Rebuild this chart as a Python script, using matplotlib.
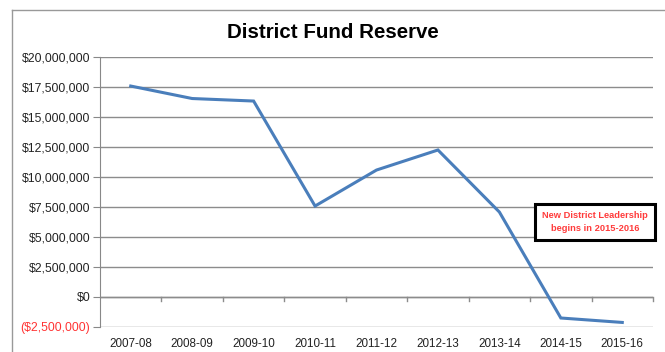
import matplotlib.pyplot as plt
from matplotlib.lines import Line2D
from matplotlib.ticker import FuncFormatter

years = ["2007-08", "2008-09", "2009-10", "2010-11", "2011-12",
         "2012-13", "2013-14", "2014-15", "2015-16"]
reserve = [17.58, 16.54, 16.33, 7.58, 10.58, 12.25, 7.08, -1.75, -2.12]  # millions
yticks = [-2.5, 0, 2.5, 5, 7.5, 10, 12.5, 15, 17.5, 20]

plt.rcParams['font.family'] = ['Liberation Sans', 'DejaVu Sans']

fig = plt.figure(figsize=(6.65, 3.52), dpi=100)
ax = fig.add_axes([100/665, 1 - 327/352, 553/665, 270/352])

x = list(range(len(years)))
ax.plot(x, reserve, color='#4a7ebb', linewidth=2.2, solid_joinstyle='miter', zorder=3)

ax.set_xlim(-0.5, len(years) - 0.5)
ax.set_ylim(-2.5, 20)
ax.set_yticks(yticks)

def money(v, pos):
    if v < 0:
        return "(${:,.0f})".format(-v * 1e6)
    return "${:,.0f}".format(v * 1e6)

ax.yaxis.set_major_formatter(FuncFormatter(money))
for lab, v in zip(ax.get_yticklabels(), yticks):
    lab.set_color('#ff3333' if v < 0 else '#222222')
ax.tick_params(axis='y', labelsize=8.8, length=5, color='#888888', pad=2)
ax.grid(axis='y', color='#8c8c8c', linewidth=1)
ax.set_axisbelow(True)

ax.set_xticks(x)
ax.set_xticklabels(years)
ax.tick_params(axis='x', labelsize=8.4, length=0, pad=8, labelcolor='#222222')

for s in ['top', 'right', 'bottom']:
    ax.spines[s].set_visible(False)
ax.spines['left'].set_color('#888888')

# category axis sits at zero with boundary tick marks
ax.axhline(0, color='#8c8c8c', linewidth=1, zorder=1)
for b in [i + 0.5 for i in range(len(years))]:
    ax.plot([b, b], [0, -0.3], color='#8c8c8c', linewidth=1, zorder=1, clip_on=False)

fig.suptitle("District Fund Reserve", x=0.5, y=1 - 32/352, va='center',
             fontsize=14.8, fontweight='bold')

ax.text(595/665, 1 - 222/352, "New District Leadership\nbegins in 2015-2016",
        transform=fig.transFigure, ha='center', va='center', fontsize=6.7,
        fontweight='bold', color='#ff3b3b', linespacing=1.45,
        bbox=dict(boxstyle='square,pad=0.75', facecolor='white',
                  edgecolor='black', linewidth=2.2))

# chart frame
fig.add_artist(Line2D([12/665, 12/665], [0, 1 - 10/352], color='#999999', linewidth=1))
fig.add_artist(Line2D([12/665, 1], [1 - 10/352, 1 - 10/352], color='#999999', linewidth=1))

fig.savefig("out.png", dpi=100)
